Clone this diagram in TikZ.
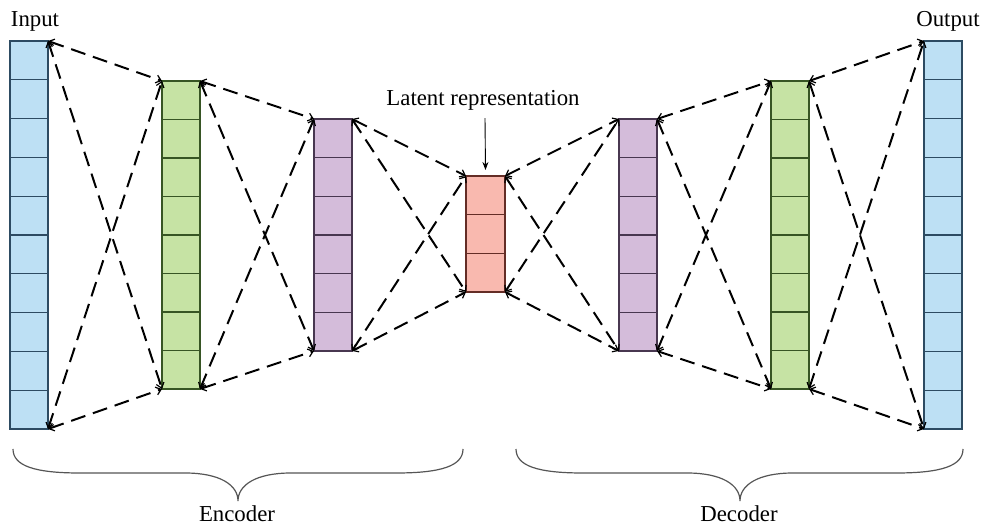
\documentclass[tikz,border=0pt]{standalone}
\usepackage{fontspec}
\setmainfont{Liberation Serif}
\usetikzlibrary{arrows.meta,calc}
\definecolor{cblue}{RGB}{189,224,244}
\definecolor{cbluel}{RGB}{45,75,98}
\definecolor{cgreen}{RGB}{198,227,164}
\definecolor{cgreenl}{RGB}{55,85,36}
\definecolor{cpurple}{RGB}{212,188,218}
\definecolor{cpurplel}{RGB}{72,55,80}
\definecolor{cred}{RGB}{249,185,175}
\definecolor{credl}{RGB}{100,45,38}
\definecolor{bracec}{RGB}{85,85,85}
\begin{document}
\begin{tikzpicture}[x=1pt,y=-1pt,
  layer/.style 2 args={fill=#1, draw=#2, line width=1.2pt, minimum width=38pt,
    inner sep=0pt, outer sep=0pt, rectangle},
  cellline/.style={line width=1.2pt},
  link/.style={line width=2pt, dash pattern=on 15pt off 8pt,
    {Straight Barb[length=5pt,width=8pt,line width=1.2pt]}-{Straight Barb[length=5pt,width=8pt,line width=1.2pt]}},
  lbl/.style={font=\fontspec{Liberation Serif}\fontsize{22.8}{27}\selectfont, inner sep=0pt, anchor=base},
  pointer/.style={line width=0.9pt, -{Stealth[length=8pt,width=6pt]}},
  bracepath/.style={draw=bracec, line width=1.2pt}]
\useasboundingbox (0,0) rectangle (983,526);

% layers
\node[layer={cblue}{cbluel}, minimum height=388pt] (in) at (29,235) {};
\node[layer={cgreen}{cgreenl}, minimum height=308pt] (e1) at (181,235) {};
\node[layer={cpurple}{cpurplel}, minimum height=232pt] (e2) at (333,235) {};
\node[layer={cred}{credl}, minimum height=116pt, minimum width=39pt] (lat) at (485.5,234) {};
\node[layer={cpurple}{cpurplel}, minimum height=232pt] (d2) at (638,235) {};
\node[layer={cgreen}{cgreenl}, minimum height=308pt] (d1) at (790,235) {};
\node[layer={cblue}{cbluel}, minimum height=388pt] (out) at (943,235) {};

% cell dividers
\foreach \n/\k/\c in {in/10/cbluel, e1/8/cgreenl, e2/6/cpurplel, lat/3/credl, d2/6/cpurplel, d1/8/cgreenl, out/10/cbluel} {
  \pgfmathtruncatemacro{\km}{\k-1}
  \foreach \i in {1,...,\km} {
    \draw[cellline, draw=\c] ($(\n.north west)!\i/\k!(\n.south west)$) -- ($(\n.north east)!\i/\k!(\n.south east)$);
  }
}

% dashed connections
\foreach \a/\b in {in/e1, e1/e2, e2/lat, lat/d2, d2/d1, d1/out} {
  \draw[link] (\a.north east) -- (\b.north west);
  \draw[link] (\a.south east) -- (\b.south west);
  \draw[link] (\a.north east) -- (\b.south west);
  \draw[link] (\a.south east) -- (\b.north west);
}

% labels
\node[lbl] (tin) at (35,27) {Input};
\node[lbl] (tout) at (948,27) {Output};
\node[lbl] (tlat) at (483,106) {Latent representation};
\draw[pointer] ($(tlat.south)+(2,7)$) -- ($(lat.north)+(0,-6)$);

% braces
\draw[bracepath] (13,449) .. controls (13,466) and (35,473) .. (80,473) -- (185,473)
  .. controls (220,473) and (238,485) .. (238,501)
  .. controls (238,485) and (256,473) .. (291,473) -- (396,473)
  .. controls (441,473) and (463,466) .. (463,449);
\draw[bracepath] (516,449) .. controls (516,466) and (538,473) .. (583,473) -- (687,473)
  .. controls (722,473) and (740,485) .. (740,501)
  .. controls (740,485) and (758,473) .. (793,473) -- (896,473)
  .. controls (941,473) and (963,466) .. (963,449);
\node[lbl] (tenc) at (237,521) {Encoder};
\node[lbl] (tdec) at (739,521) {Decoder};
\end{tikzpicture}
\end{document}
